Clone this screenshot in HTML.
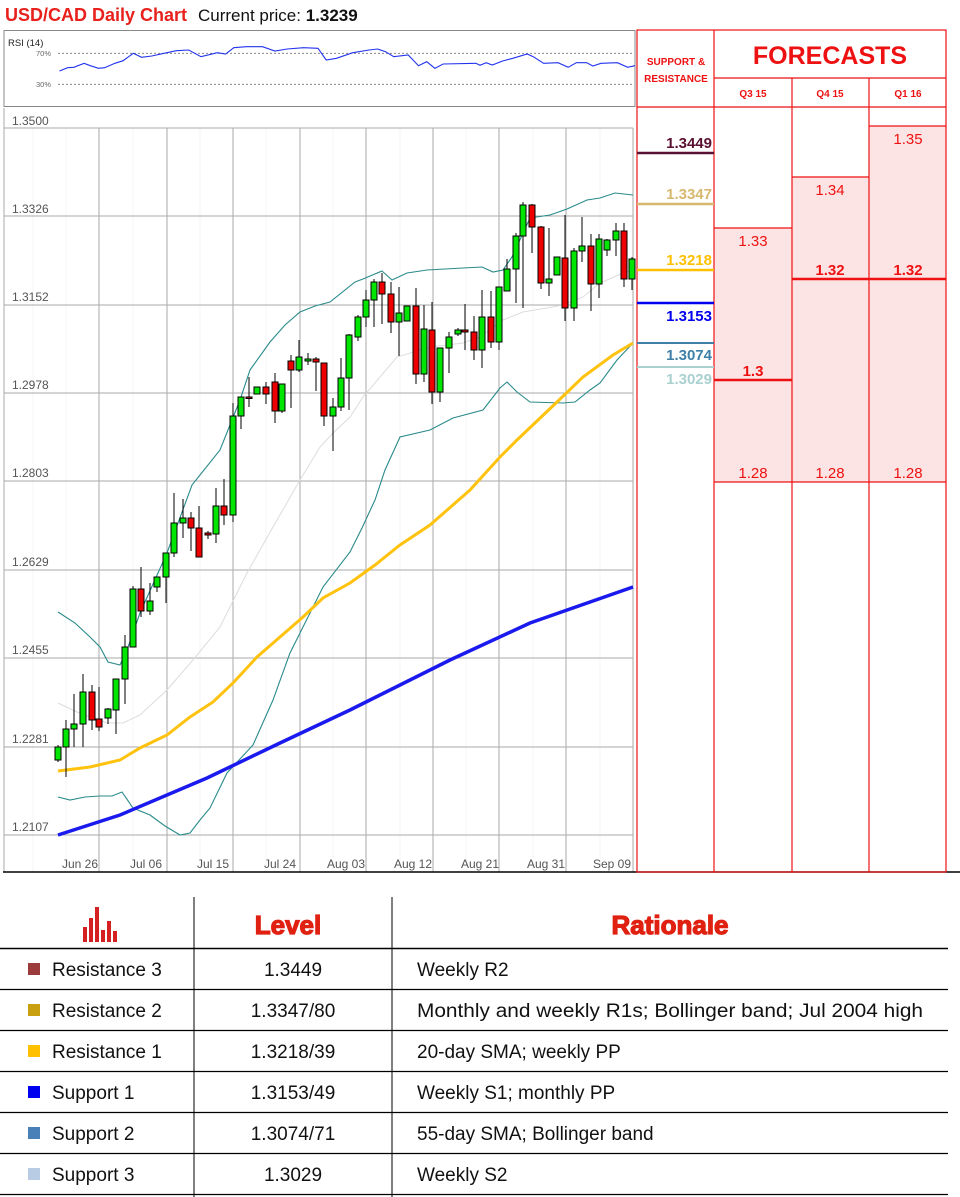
<!DOCTYPE html>
<html><head><meta charset="utf-8"><style>
body{margin:0;background:#fff}
svg{display:block}
text{font-family:"Liberation Sans",sans-serif}
</style></head><body>
<svg width="960" height="1197" viewBox="0 0 960 1197" xmlns="http://www.w3.org/2000/svg">
<rect width="960" height="1197" fill="#fff"/>
<text x="5" y="21" font-size="18" font-weight="bold" fill="#e8211c">USD/CAD Daily Chart</text>
<text x="198" y="21" font-size="17" fill="#111">Current price: <tspan font-weight="bold">1.3239</tspan></text>
<rect x="4" y="30.5" width="631" height="76" fill="#fff" stroke="#888" stroke-width="1"/>
<text x="8" y="46" font-size="9.5" fill="#222">RSI (14)</text>
<text x="36" y="56" font-size="7.5" fill="#666">70%</text>
<text x="36" y="87" font-size="7.5" fill="#666">30%</text>
<line x1="58" y1="53.3" x2="634" y2="53.3" stroke="#777" stroke-dasharray="2,2" stroke-width="0.8"/>
<line x1="58" y1="84.3" x2="634" y2="84.3" stroke="#777" stroke-dasharray="2,2" stroke-width="0.8"/>
<polyline fill="none" stroke="#2233ee" stroke-width="1.1" points="59.5,71 67.7,67.7 73.8,67.3 84.1,63.3 90.3,65.7 98.5,68.3 104.6,67.7 114.9,63.3 123.1,60.7 133.3,53.3 141.5,57.3 151.8,56 164.1,53.3 176.4,50.7 188.7,50 201,56.7 217.4,52.7 225.6,54 233.8,47.7 246.2,46.7 262.6,46.7 274.9,51 287.2,49 303.6,47.7 318,48.3 326.2,60 336.4,58.3 352.8,52.7 369.2,50 377.4,49 385.6,51.7 393.8,56.7 408.2,55 418.5,65.7 426.7,61.7 434.9,68.3 443.1,64 475.9,63.3 480,65.3 486.2,62.7 492.3,65 502.6,61 512.8,58.3 527.2,54 533.3,56.7 543.6,63.3 558,62.7 568.2,67.3 576.4,62.7 586.7,62.7 592.8,66 601,63.3 617.4,62.7 627.7,67.3 635,65.7"/>
<g stroke="#f4f4f4" stroke-width="1">
<line x1="33" y1="128" x2="33" y2="872"/><line x1="66" y1="128" x2="66" y2="872"/><line x1="133" y1="128" x2="133" y2="872"/><line x1="200" y1="128" x2="200" y2="872"/><line x1="266" y1="128" x2="266" y2="872"/><line x1="333" y1="128" x2="333" y2="872"/><line x1="400" y1="128" x2="400" y2="872"/><line x1="466" y1="128" x2="466" y2="872"/><line x1="533" y1="128" x2="533" y2="872"/><line x1="600" y1="128" x2="600" y2="872"/>
</g>
<g stroke="#aaa" stroke-width="1">
<line x1="4" y1="128" x2="633" y2="128"/><line x1="4" y1="216" x2="633" y2="216"/><line x1="4" y1="305" x2="633" y2="305"/><line x1="4" y1="393" x2="633" y2="393"/><line x1="4" y1="481" x2="633" y2="481"/><line x1="4" y1="570" x2="633" y2="570"/><line x1="4" y1="658" x2="633" y2="658"/><line x1="4" y1="747" x2="633" y2="747"/><line x1="4" y1="835" x2="633" y2="835"/>
<line x1="99" y1="128" x2="99" y2="872"/><line x1="167" y1="128" x2="167" y2="872"/><line x1="233" y1="128" x2="233" y2="872"/><line x1="300" y1="128" x2="300" y2="872"/><line x1="366" y1="128" x2="366" y2="872"/><line x1="433" y1="128" x2="433" y2="872"/><line x1="499" y1="128" x2="499" y2="872"/><line x1="566" y1="128" x2="566" y2="872"/><line x1="633" y1="128" x2="633" y2="872"/>
<line x1="4" y1="108" x2="4" y2="872"/>
</g>
<line x1="3" y1="872" x2="960" y2="872" stroke="#000" stroke-width="1.5"/>
<g font-size="12" fill="#555">
<text x="12" y="125">1.3500</text><text x="12" y="213">1.3326</text><text x="12" y="301">1.3152</text><text x="12" y="389">1.2978</text><text x="12" y="477">1.2803</text><text x="12" y="566">1.2629</text><text x="12" y="654">1.2455</text><text x="12" y="743">1.2281</text><text x="12" y="831">1.2107</text>
</g>
<g font-size="12" fill="#555" text-anchor="middle">
<text x="80" y="868">Jun 26</text><text x="146" y="868">Jul 06</text><text x="213" y="868">Jul 15</text><text x="280" y="868">Jul 24</text><text x="346" y="868">Aug 03</text><text x="413" y="868">Aug 12</text><text x="480" y="868">Aug 21</text><text x="546" y="868">Aug 31</text><text x="612" y="868">Sep 09</text>
</g>
<polyline fill="none" stroke="#dcdcdc" stroke-width="1" points="58,703 77,712 107,723 123,723 140,715 167,690 193,660 220,627 247,573 273,527 300,480 320,447 333,433 350,417 363,397 397,357 430,347 463,343 480,337 503,320 523,312 547,308 563,305 583,297 600,283 623,273 633,270"/>
<polyline fill="none" stroke="#2a8a8a" stroke-width="1.1" points="58,612 75,623 90,637 100,647 108,662 120,665 127,650 140,613 167,553 192,485 220,450 240,400 250,370 270,342 285,325 300,312 315,306 330,302 355,282 363,279 382,271 392,280 407,273 427,270 463,268 482,267 493,272 503,270 512,257 530,218 550,215 567,209 587,200 600,198 615,193 633,195"/>
<polyline fill="none" stroke="#2a8a8a" stroke-width="1.1" points="58,797 70,800 85,797 100,796 112,796 122,792 133,808 150,815 165,826 180,835 190,833 200,820 210,808 227,773 253,745 273,700 290,653 323,587 350,552 362,528 375,500 385,470 400,437 430,430 453,418 483,410 500,388 507,382 517,392 530,402 563,403 575,402 590,390 600,383 617,360 633,343"/>
<polyline fill="none" stroke="#ffc20e" stroke-width="3" points="58,771 90,767 120,760 140,748 167,735 190,717 213,702 233,683 257,657 280,637 303,617 323,598 350,583 375,565 400,545 430,525 470,490 500,457 517,440 557,402 583,377 613,355 633,343"/>
<polyline fill="none" stroke="#1a1aee" stroke-width="3.5" points="58,835 120,815 207,778 280,743 350,710 450,660 530,623 633,587"/>
<g id="c" stroke="#000" stroke-width="1"></g>
<rect x="714" y="228" width="78" height="254" fill="#fde4e4"/>
<rect x="792" y="177" width="77" height="305" fill="#fde4e4"/>
<rect x="869" y="126" width="77" height="356" fill="#fde4e4"/>
<g stroke="#ee1111" stroke-width="1.2" fill="none">
<rect x="637" y="30" width="309" height="842"/>
<line x1="714" y1="30" x2="714" y2="872"/><line x1="714" y1="78" x2="946" y2="78"/>
<line x1="792" y1="78" x2="792" y2="872"/><line x1="869" y1="78" x2="869" y2="872"/>
<line x1="637" y1="107" x2="946" y2="107"/>
<line x1="714" y1="228" x2="792" y2="228"/><line x1="792" y1="177" x2="869" y2="177"/><line x1="869" y1="126" x2="946" y2="126"/>
<line x1="714" y1="482" x2="946" y2="482"/>
</g>
<line x1="792" y1="279" x2="946" y2="279" stroke="#ee1111" stroke-width="2.5"/>
<line x1="714" y1="380" x2="792" y2="380" stroke="#ee1111" stroke-width="2.5"/>
<text x="676" y="65" font-size="10" font-weight="bold" fill="#ee1111" text-anchor="middle">SUPPORT &amp;</text>
<text x="676" y="82" font-size="10" font-weight="bold" fill="#ee1111" text-anchor="middle">RESISTANCE</text>
<text x="830" y="64" font-size="25" font-weight="bold" fill="#ee1111" text-anchor="middle">FORECASTS</text>
<g font-size="10" font-weight="bold" fill="#ee1111" text-anchor="middle"><text x="753" y="97">Q3 15</text><text x="830" y="97">Q4 15</text><text x="908" y="97">Q1 16</text></g>
<g font-size="15" fill="#ee1111" text-anchor="middle"><text x="753" y="246">1.33</text><text x="830" y="195">1.34</text><text x="908" y="144">1.35</text><text x="753" y="478">1.28</text><text x="830" y="478">1.28</text><text x="908" y="478">1.28</text></g>
<g font-size="15" font-weight="bold" fill="#ee1111" text-anchor="middle"><text x="830" y="275">1.32</text><text x="908" y="275">1.32</text><text x="753" y="376">1.3</text></g>
<line x1="637" y1="153" x2="714" y2="153" stroke="#5a1030" stroke-width="2.5"/>
<line x1="637" y1="204" x2="714" y2="204" stroke="#d8b870" stroke-width="2.5"/>
<line x1="637" y1="270" x2="714" y2="270" stroke="#ffc000" stroke-width="2.5"/>
<line x1="637" y1="303" x2="714" y2="303" stroke="#0000ee" stroke-width="2.5"/>
<line x1="637" y1="343" x2="714" y2="343" stroke="#3f80a8" stroke-width="2"/>
<line x1="637" y1="367" x2="714" y2="367" stroke="#aad0d0" stroke-width="2"/>
<g font-size="15" font-weight="bold" text-anchor="end">
<text x="712" y="148" fill="#5a1030">1.3449</text>
<text x="712" y="199" fill="#d8b870">1.3347</text>
<text x="712" y="265" fill="#ffc000">1.3218</text>
<text x="712" y="321" fill="#0000ee">1.3153</text>
<text x="712" y="360" fill="#3f80a8">1.3074</text>
<text x="712" y="384" fill="#aad0d0">1.3029</text>
</g>
<g fill="#d42020"><rect x="83" y="927" width="4" height="15"/><rect x="89" y="918" width="4" height="24"/><rect x="95" y="907" width="4" height="35"/><rect x="101" y="930" width="4" height="12"/><rect x="107" y="921" width="4" height="21"/><rect x="113" y="931" width="4" height="11"/></g>
<g font-size="26" font-weight="bold" fill="#e02010" stroke="#e02010" stroke-width="1.2" text-anchor="middle"><text x="288" y="934">Level</text><text x="670" y="934">Rationale</text></g>
<g stroke="#000"><line x1="194" y1="897" x2="194" y2="1197" stroke-width="1"/><line x1="392" y1="897" x2="392" y2="1197" stroke-width="1"/>
<line x1="0" y1="948.5" x2="948" y2="948.5" stroke-width="1.5"/><line x1="0" y1="989.5" x2="948" y2="989.5" stroke-width="1.2"/><line x1="0" y1="1030.5" x2="948" y2="1030.5" stroke-width="1.2"/><line x1="0" y1="1071.5" x2="948" y2="1071.5" stroke-width="1.2"/><line x1="0" y1="1112.5" x2="948" y2="1112.5" stroke-width="1.2"/><line x1="0" y1="1153.5" x2="948" y2="1153.5" stroke-width="1.2"/><line x1="0" y1="1194.5" x2="948" y2="1194.5" stroke-width="1.2"/></g>
<rect x="28" y="963" width="12" height="12" fill="#9b3b3b"/><rect x="28" y="1004" width="12" height="12" fill="#c9a00f"/><rect x="28" y="1045" width="12" height="12" fill="#ffc000"/><rect x="28" y="1086" width="12" height="12" fill="#0000ee"/><rect x="28" y="1127" width="12" height="12" fill="#4a80b8"/><rect x="28" y="1168" width="12" height="12" fill="#b8cce4"/>
<g font-size="19" fill="#111">
<text x="52" y="976">Resistance 3</text><text x="52" y="1017">Resistance 2</text><text x="52" y="1058">Resistance 1</text><text x="52" y="1099">Support 1</text><text x="52" y="1140">Support 2</text><text x="52" y="1181">Support 3</text>
<g text-anchor="middle"><text x="293" y="976">1.3449</text><text x="293" y="1017">1.3347/80</text><text x="293" y="1058">1.3218/39</text><text x="293" y="1099">1.3153/49</text><text x="293" y="1140">1.3074/71</text><text x="293" y="1181">1.3029</text></g>
<text x="417" y="976">Weekly R2</text><text x="417" y="1017" textLength="506" lengthAdjust="spacingAndGlyphs">Monthly and weekly R1s; Bollinger band; Jul 2004 high</text><text x="417" y="1058">20-day SMA; weekly PP</text><text x="417" y="1099">Weekly S1; monthly PP</text><text x="417" y="1140">55-day SMA; Bollinger band</text><text x="417" y="1181">Weekly S2</text>
</g>
</svg>
<script>
var d=[[58,747,760,745,762,'g'],[66,729,747,720,777,'g'],[74,724,729,694,747,'g'],[83,692,724,674,747,'g'],[92,692,720,685,730,'r'],[99,719,727,687,731,'r'],[108,709,718,708,724,'g'],[116,679,710,679,734,'g'],[125,647,679,635,704,'g'],[133,589,647,586,647,'g'],[141,589,611,567,617,'r'],[150,601,611,583,615,'g'],[157,577,587,577,592,'g'],[166,553,577,553,603,'g'],[174,523,553,493,557,'g'],[183,518,523,499,538,'g'],[191,518,528,512,551,'r'],[199,528,557,506,557,'r'],[208,533,535,531,539,'r'],[216,506,534,488,543,'g'],[224,506,515,479,525,'r'],[233,416,515,403,522,'g'],[241,397,416,397,429,'g'],[249,397,398,377,407,'r'],[257,387,394,387,394,'g'],[266,387,394,382,404,'r'],[275,382,411,373,423,'r'],[282,384,411,384,413,'g'],[291,361,370,355,408,'r'],[299,357,370,340,372,'g'],[308,359,361,353,365,'g'],[316,359,362,357,391,'r'],[324,363,416,363,426,'r'],[333,407,416,398,451,'g'],[341,378,407,358,411,'g'],[349,335,378,334,410,'g'],[358,317,337,315,341,'g'],[366,300,317,290,327,'g'],[374,282,300,279,327,'g'],[382,282,294,273,324,'r'],[391,294,322,282,333,'r'],[399,313,322,287,356,'g'],[407,306,321,306,321,'g'],[416,306,374,288,384,'r'],[424,329,374,305,382,'g'],[432,330,392,302,404,'r'],[440,348,392,348,402,'g'],[449,337,348,332,373,'g'],[458,330,334,328,336,'g'],[465,330,332,304,350,'r'],[474,332,350,316,360,'r'],[482,317,350,290,368,'g'],[491,317,342,291,348,'r'],[499,287,342,287,350,'g'],[507,269,291,259,291,'g'],[516,236,269,233,303,'g'],[523,205,236,202,308,'g'],[532,205,227,204,253,'r'],[541,227,283,226,289,'r'],[549,279,283,228,296,'g'],[557,257,275,257,275,'g'],[565,258,308,215,321,'r'],[574,251,308,248,321,'g'],[582,246,251,217,262,'g'],[591,246,284,234,311,'r'],[599,239,284,234,298,'g'],[607,240,250,239,256,'g'],[616,231,240,223,256,'g'],[624,231,279,223,287,'r'],[632,259,279,257,290,'g']];
var g=document.getElementById('c'),s='';
d.forEach(function(c){s+='<line x1="'+c[0]+'" y1="'+c[3]+'" x2="'+c[0]+'" y2="'+c[4]+'"/>'+'<rect x="'+(c[0]-3)+'" y="'+c[1]+'" width="6" height="'+Math.max(1.5,c[2]-c[1])+'" fill="'+(c[5]=='g'?'#00e600':'#ee0000')+'"/>';});
g.innerHTML=s;
</script>
</body></html>
